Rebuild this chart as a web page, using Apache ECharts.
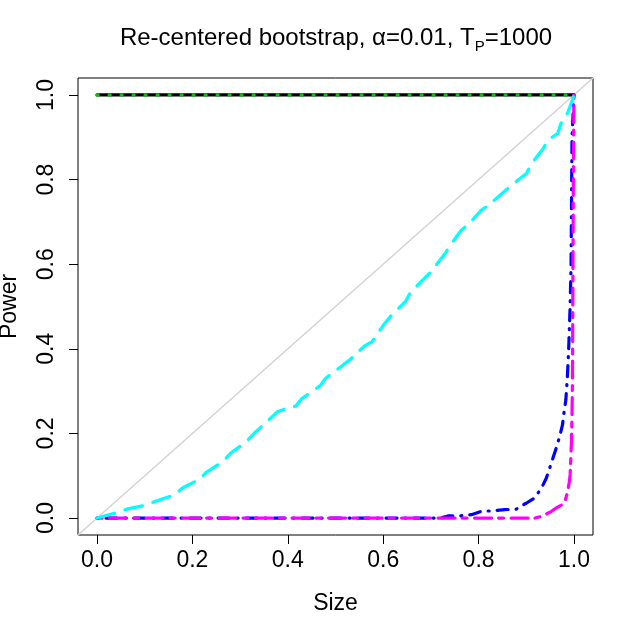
<!DOCTYPE html>
<html>
<head>
<meta charset="utf-8">
<title>Re-centered bootstrap</title>
<script src="https://cdn.jsdelivr.net/npm/echarts@6/dist/echarts.min.js"></script>
<style>
    html, body { margin: 0; padding: 0; background: #fff; }
    #power_size { width: 636px; height: 633px; }
</style>
</head>
<body>
<div id="power_size"></div>
<script>

// Chart data
// ------------------------------

// Axis ticks
var tickValues = [0, 0.2, 0.4, 0.6, 0.8, 1.0];

// 45 degree reference line
var diagSize = [-0.04, 1.04];
var diagPower = [-0.04, 1.04];

// Black solid and green dotted curves (power 1 everywhere)
var blackSize = [0, 1];
var blackPower = [1, 1];
var greenSize = [0, 1];
var greenPower = [1, 1];

// Cyan long dashed curve
var cyanSize = [0, 0.041, 0.062, 0.104, 0.121, 0.163, 0.179, 0.215, 0.229, 0.264, 0.280, 0.313, 0.330, 0.364, 0.379,
    0.417, 0.428, 0.468, 0.479, 0.516, 0.530, 0.561, 0.577, 0.601, 0.618, 0.647, 0.657, 0.687, 0.701, 0.729, 0.739,
    0.764, 0.778, 0.806, 0.822, 0.865, 0.901, 0.909, 0.935, 0.946, 0.966, 0.973, 0.987, 0.998, 1];
var cyanPower = [0, 0.013, 0.021, 0.031, 0.039, 0.055, 0.071, 0.092, 0.108, 0.134, 0.153, 0.181, 0.201, 0.236, 0.252,
    0.265, 0.281, 0.313, 0.330, 0.362, 0.374, 0.407, 0.417, 0.457, 0.480, 0.512, 0.533, 0.567, 0.583, 0.624, 0.642,
    0.681, 0.693, 0.728, 0.740, 0.783, 0.815, 0.835, 0.872, 0.894, 0.909, 0.933, 0.958, 0.992, 1];

// Blue dot-dash curve
var blueSize = [0, 0.72, 0.736, 0.760, 0.785, 0.806, 0.827, 0.855, 0.879, 0.893, 0.900, 0.917, 0.932, 0.942, 0.948,
    0.956, 0.964, 0.971, 0.976, 0.979, 0.983, 0.986, 0.989, 0.992, 0.994, 0.995, 0.996, 1];
var bluePower = [0, 0, 0.005, 0.005, 0.008, 0.016, 0.017, 0.020, 0.021, 0.031, 0.035, 0.047, 0.071, 0.094, 0.114,
    0.142, 0.169, 0.197, 0.220, 0.248, 0.279, 0.327, 0.40, 0.50, 0.60, 0.75, 0.90, 1];

// Magenta two-dash curve
var magentaSize = [0, 0.918, 0.932, 0.953, 0.963, 0.974, 0.982, 0.986, 0.990, 0.992, 0.993, 0.995, 0.996, 0.997,
    0.998, 0.999, 1];
var magentaPower = [0, 0, 0.004, 0.016, 0.024, 0.031, 0.043, 0.059, 0.083, 0.102, 0.130, 0.185, 0.248, 0.327,
    0.6, 0.85, 1];


// Setup module
// ------------------------------

var PowerSizePlot = function() {

    var fontFamily = '"Liberation Sans", Arial, sans-serif';

    var pairs = function(xs, ys) {
        return xs.map(function(x, i) { return [x, ys[i]]; });
    };

    var lineSeries = function(xs, ys, color, width, dash) {
        return {
            type: 'line',
            xAxisIndex: 0,
            yAxisIndex: 0,
            symbol: 'none',
            silent: true,
            clip: true,
            lineStyle: {
                color: color,
                width: width,
                type: dash,
                cap: 'round'
            },
            data: pairs(xs, ys)
        };
    };

    // Hidden axis, used for the data box and for the unused side of the tick grids
    var hiddenAxis = function(gridIndex, min, max) {
        return { type: 'value', gridIndex: gridIndex, min: min, max: max, show: false };
    };

    // Visible tick axis (0..1, every 0.2), no axis line - the box is the grid border
    var tickAxis = function(gridIndex, extra) {
        var axis = {
            type: 'value',
            gridIndex: gridIndex,
            min: tickValues[0],
            max: tickValues[tickValues.length - 1],
            interval: 0.2,
            nameLocation: 'middle',
            nameTextStyle: { fontSize: 23, color: '#000', fontFamily: fontFamily },
            axisLine: { show: false, onZero: false },
            axisTick: { show: true, inside: false, length: 9, lineStyle: { color: '#000', width: 1 } },
            axisLabel: {
                fontSize: 23,
                color: '#000',
                fontFamily: fontFamily,
                formatter: function(v) { return v.toFixed(1); }
            },
            splitLine: { show: false }
        };
        Object.keys(extra).forEach(function(k) {
            if (k === 'axisLabel') {
                Object.assign(axis.axisLabel, extra[k]);
            } else {
                axis[k] = extra[k];
            }
        });
        return axis;
    };

    var _powerSizeChart = function() {
        if (typeof echarts == 'undefined') {
            console.warn('Warning - echarts.min.js is not loaded.');
            return;
        }

        var element = document.getElementById('power_size');
        if (!element) return;

        var chart = echarts.init(element, null, { renderer: 'canvas' });

        chart.setOption({
            animation: false,
            backgroundColor: '#fff',
            textStyle: {
                fontFamily: fontFamily
            },

            // Title with subscript
            graphic: [{
                type: 'text',
                x: 336,
                y: 26,
                silent: true,
                style: {
                    text: '{m|Re-centered bootstrap, α=0.01, T}{s|P}{m|=1000}',
                    align: 'center',
                    verticalAlign: 'top',
                    rich: {
                        m: { fontSize: 24, lineHeight: 24, verticalAlign: 'top', fontFamily: fontFamily, fill: '#000' },
                        s: { fontSize: 15, lineHeight: 15, verticalAlign: 'top', padding: [13, 0, 0, 0], fontFamily: fontFamily, fill: '#000' }
                    }
                }
            }],

            // 0: plot box (data range), 1: x tick grid, 2: y tick grid
            grid: [
                { left: 78, right: 43, top: 78, bottom: 98, outerBoundsMode: 'none', show: true, borderColor: '#000', borderWidth: 1, backgroundColor: 'transparent' },
                { left: 97, right: 62, top: 78, bottom: 98, outerBoundsMode: 'none', show: false },
                { left: 78, right: 43, top: 95, bottom: 115, outerBoundsMode: 'none', show: false }
            ],

            xAxis: [
                hiddenAxis(0, -0.04, 1.04),
                tickAxis(1, {
                    position: 'bottom',
                    name: 'Size',
                    nameGap: 57,
                    axisLabel: { margin: 14 }
                }),
                hiddenAxis(2, 0, 1)
            ],

            yAxis: [
                hiddenAxis(0, -0.04, 1.04),
                hiddenAxis(1, 0, 1),
                tickAxis(2, {
                    position: 'left',
                    name: 'Power',
                    nameRotate: 90,
                    nameGap: 57,
                    axisLabel: { rotate: 90, margin: 20 }
                })
            ],

            series: [
                lineSeries(diagSize, diagPower, '#D3D3D3', 1.5, 'solid'),
                lineSeries(blackSize, blackPower, '#000000', 3.2, 'solid'),
                lineSeries(greenSize, greenPower, '#00C800', 3.2, [1, 11]),
                lineSeries(blueSize, bluePower, '#0000FF', 3.2, [1, 8, 11, 8]),
                lineSeries(magentaSize, magentaPower, '#FF00FF', 3.2, [5, 7.5, 17, 7]),
                lineSeries(cyanSize, cyanPower, '#00FFFF', 3.2, [18, 11])
            ]
        });

        window.addEventListener('resize', function() {
            chart.resize();
        });
    };

    return {
        init: function() {
            _powerSizeChart();
        }
    };
}();


// Initialize module
// ------------------------------

document.addEventListener('DOMContentLoaded', function() {
    PowerSizePlot.init();
});
</script>
</body>
</html>
